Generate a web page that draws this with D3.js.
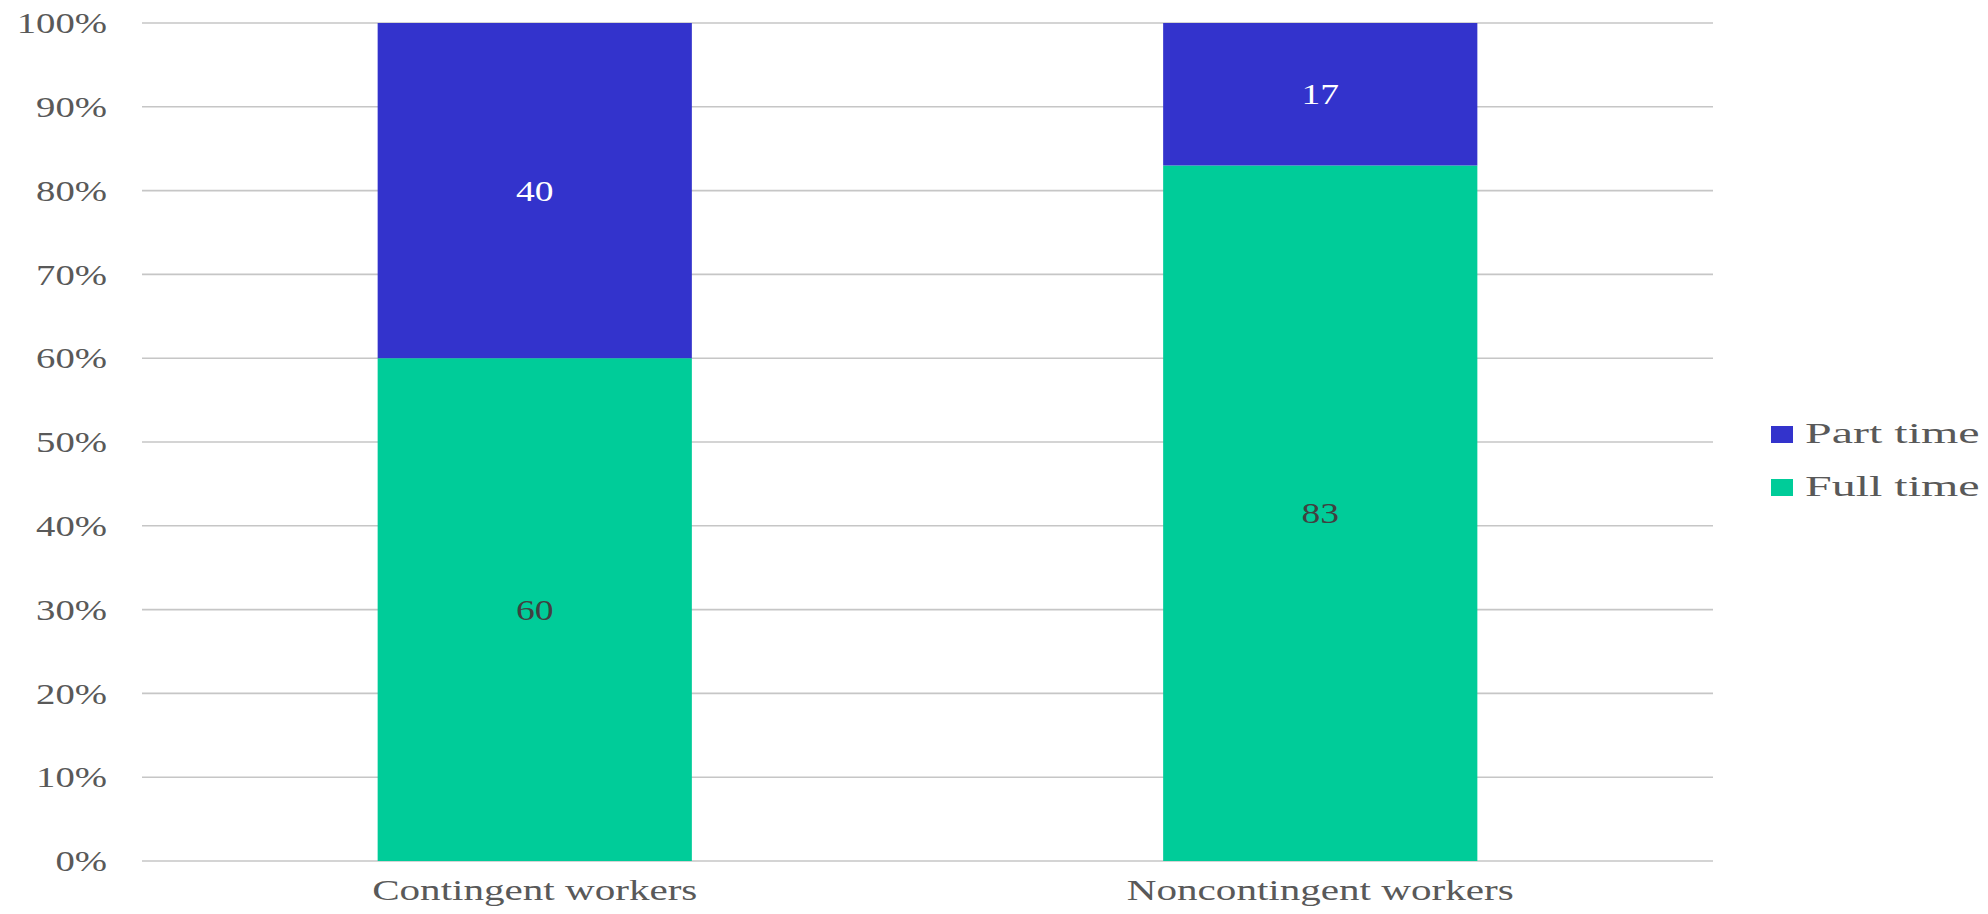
<!DOCTYPE html>
<html>
<head>
<meta charset="utf-8">
<script src="https://cdn.jsdelivr.net/npm/d3@7"></script>
<style>
  html, body { margin: 0; padding: 0; background: #fff; }
  svg { display: block; }
  text { font-family: "Liberation Serif", "Times New Roman", serif; }
</style>
</head>
<body>
<svg id="chart" width="1988" height="914"></svg>
<script>
const categories = ["Contingent workers", "Noncontingent workers"];
const seriesNames = ["Full time", "Part time"];
const fullTime = [60, 83];
const partTime = [40, 17];
const yTicks = [0, 10, 20, 30, 40, 50, 60, 70, 80, 90, 100];
const colors = { "Full time": "#00CC99", "Part time": "#3333CC" };
const labelColors = { "Full time": "#404040", "Part time": "#FFFFFF" };

const W = 1988, H = 914;
const margin = { left: 142, right: 275, top: 23, bottom: 53 };
const FS = 30;
const SX_TICK = 1.29, SX_CAT = 1.37, SX_DATA = 1.25, SX_LEG = 1.6;

const svg = d3.select("#chart");
const iw = W - margin.left - margin.right;
const ih = H - margin.top - margin.bottom;
const g = svg.append("g").attr("transform", `translate(${margin.left},${margin.top})`);

const x = d3.scaleBand().domain(categories).range([0, iw]).paddingInner(0.6).paddingOuter(0.3);
const y = d3.scaleLinear().domain([0, 100]).range([ih, 0]);

const rows = categories.map((c, i) => ({ category: c, "Full time": fullTime[i], "Part time": partTime[i] }));
const stack = d3.stack().keys(seriesNames)(rows);

// gridlines
g.append("g").selectAll("line").data(yTicks).join("line")
  .attr("x1", 0).attr("x2", iw)
  .attr("y1", d => y(d)).attr("y2", d => y(d))
  .attr("stroke", "#C6C6C6").attr("stroke-width", 1.6);

// y tick labels
g.append("g").selectAll("text").data(yTicks).join("text")
  .attr("transform", d => `translate(${-35},${y(d)}) scale(${SX_TICK},1)`)
  .attr("dy", "0.34em")
  .attr("text-anchor", "end")
  .attr("font-size", FS)
  .attr("fill", "#595959")
  .text(d => d + "%");

// bars
const layers = g.append("g").selectAll("g").data(stack).join("g")
  .attr("fill", d => colors[d.key]);
layers.selectAll("rect").data(d => d).join("rect")
  .attr("x", d => x(d.data.category))
  .attr("width", x.bandwidth())
  .attr("y", d => y(d[1]))
  .attr("height", d => y(d[0]) - y(d[1]));

// data labels
stack.forEach(layer => {
  g.append("g").selectAll("text").data(layer).join("text")
    .attr("transform", d => `translate(${x(d.data.category) + x.bandwidth() / 2},${(y(d[0]) + y(d[1])) / 2}) scale(${SX_DATA},1)`)
    .attr("dy", "0.34em")
    .attr("text-anchor", "middle")
    .attr("font-size", FS)
    .attr("fill", labelColors[layer.key])
    .text(d => d[1] - d[0]);
});

// x category labels
g.append("g").selectAll("text").data(categories).join("text")
  .attr("transform", d => `translate(${x(d) + x.bandwidth() / 2},${ih + 39}) scale(${SX_CAT},1)`)
  .attr("text-anchor", "middle")
  .attr("font-size", FS)
  .attr("fill", "#595959")
  .text(d => d);

// legend
const legendItems = ["Part time", "Full time"];
const lg = svg.append("g").attr("transform", `translate(1771,426)`);
const li = lg.selectAll("g").data(legendItems).join("g")
  .attr("transform", (d, i) => `translate(0,${i * 53})`);
li.append("rect").attr("x", 0).attr("y", 0).attr("width", 22).attr("height", 17)
  .attr("fill", d => colors[d]);
li.append("text")
  .attr("transform", `translate(34,17) scale(${SX_LEG},1)`)
  .attr("font-size", FS)
  .attr("fill", "#595959")
  .text(d => d);
</script>
</body>
</html>
